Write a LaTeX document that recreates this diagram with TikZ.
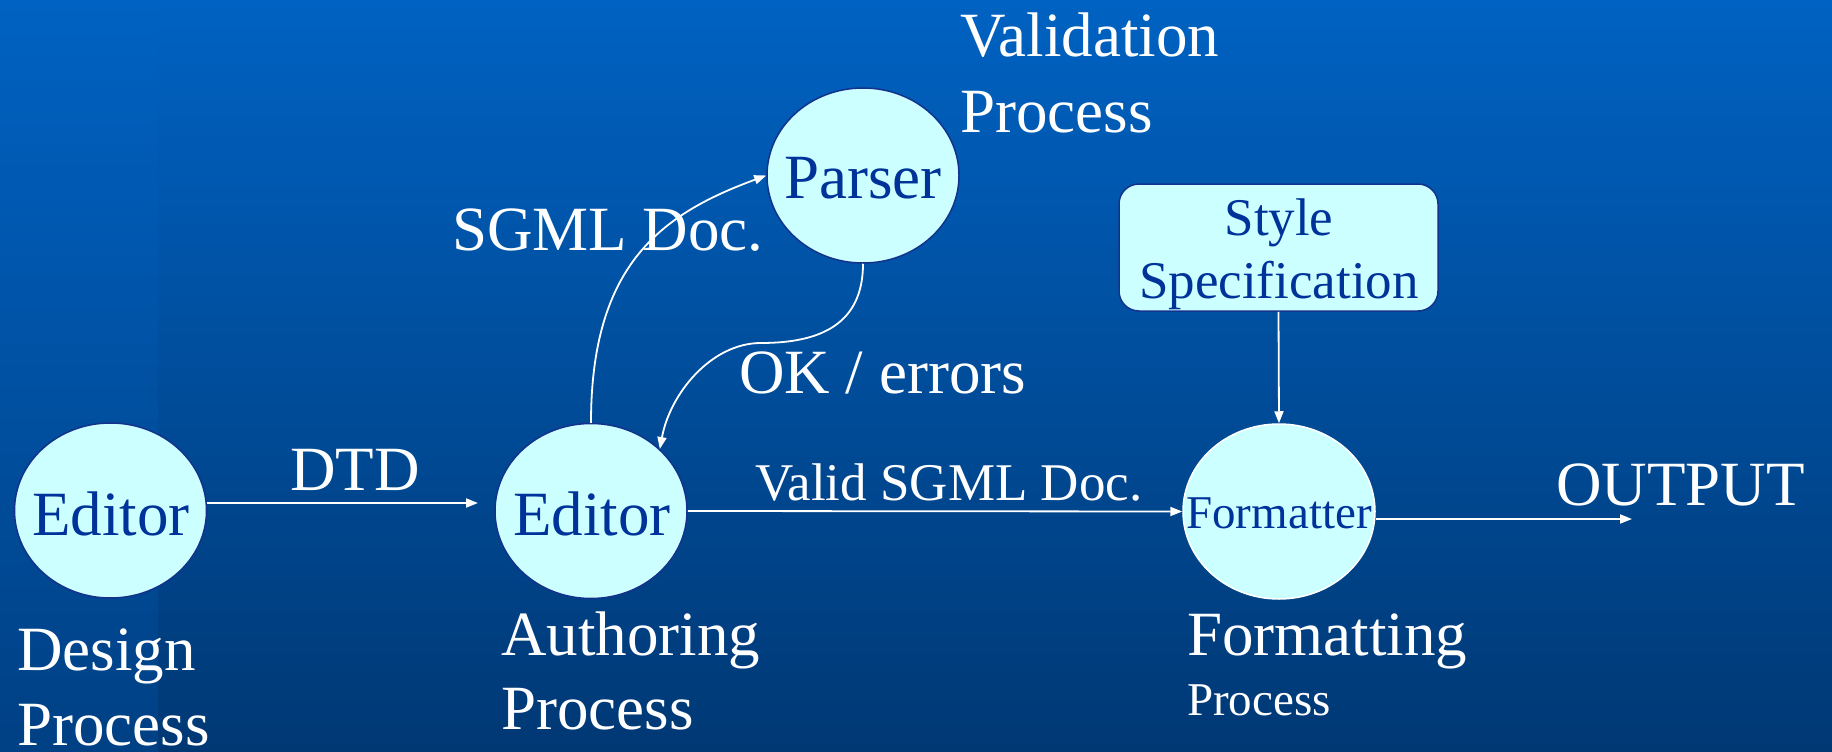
\documentclass[tikz,border=0pt]{standalone}
\usepackage{fontspec}
\setmainfont{Liberation Serif}
\usetikzlibrary{arrows.meta,shapes.geometric}

\definecolor{bgtop}{RGB}{0,98,194}
\definecolor{bgbot}{RGB}{0,56,116}
\definecolor{stripbot}{RGB}{0,64,132}
\definecolor{nodefill}{RGB}{204,255,255}
\definecolor{navy}{RGB}{0,51,153}
\definecolor{rim}{RGB}{20,50,140}

\begin{document}
\begin{tikzpicture}[x=1pt,y=-1pt,
  bubble/.style={ellipse, draw=rim, line width=1.5pt, fill=nodefill,
    minimum width=192pt, minimum height=175pt, inner sep=0pt},
  specbox/.style={rectangle, draw=rim, line width=1.5pt, fill=nodefill,
    rounded corners=20pt, minimum width=319pt, minimum height=127pt, inner sep=0pt},
  intext/.style={text=navy, anchor=base, inner sep=0pt,
    font=\fontsize{63}{63}\selectfont},
  lbl/.style={text=white, anchor=base west, inner sep=0pt,
    font=\fontsize{63}{63}\selectfont},
  midfont/.style={font=\fontsize{53}{53}\selectfont},
  smallfont/.style={font=\fontsize{47}{47}\selectfont},
  flow/.style={draw=white, line width=1.8pt, -{Triangle[length=12pt,width=9pt]}},
]
% background with a slightly lighter strip on the left
\shade[top color=bgtop, bottom color=bgbot] (0,0) rectangle (1832,752);
\shade[top color=bgtop, bottom color=stripbot] (0,0) rectangle (158,752);
\useasboundingbox (0,0) rectangle (1832,752);

% process bubbles
\node[bubble] (editorA) at (110.5,510.5) {};
\node[intext] (editorAtxt) at (111,535) {Editor};
\node[bubble] (editorB) at (591,511) {};
\node[intext] (editorBtxt) at (592,535) {Editor};
\node[bubble] (parser) at (863,175.5) {};
\node[intext] (parsertxt) at (863,198) {Parser};
\node[bubble, draw=white] (formatter) at (1279,511.5) {};
\node[intext, smallfont] (formattertxt) at (1279,528) {Formatter};

% style sheet box
\node[specbox] (style) at (1278.5,247.5) {};
\node[intext, midfont] (styletxtA) at (1279,235) {Style};
\node[intext, midfont] (styletxtB) at (1279,298) {Specification};

% captions
\node[lbl] (dtd) at (290,490) {DTD};
\node[lbl] (designA) at (17,670) {Design};
\node[lbl] (designB) at (17,745) {Process};
\node[lbl] (authA) at (501,655) {Authoring};
\node[lbl] (authB) at (501,729) {Process};
\node[lbl] (validA) at (960,57) {Validation};
\node[lbl] (validB) at (960,132) {Process};
\node[lbl] (sgml) at (452,250) {SGML Doc.};
\node[lbl] (ok) at (739,393) {OK / errors};
\node[lbl, midfont] (validdoc) at (755,500) {Valid SGML Doc.};
\node[lbl] (output) at (1556,505) {OUTPUT};
\node[lbl] (fmtA) at (1187,655) {Formatting};
\node[lbl, smallfont] (fmtB) at (1187,715) {Process};

% connectors
\coordinate (dtdEnd) at (478,503);
\coordinate (outEnd) at (1632,519);
\coordinate (okBend) at (761,343);
\draw[flow] (editorA.east |- dtdEnd) -- (dtdEnd);
\draw[flow] (editorB.east) -- (formatter.west);
\draw[flow] (formatter.east |- outEnd) -- (outEnd);
\draw[flow] (style.south) -- (formatter.north);
\draw[flow] (editorB.north) .. controls +(0,-160) and +(-103,38) .. (parser.west);
\draw[flow] (parser.south) .. controls +(0,60) and +(60,0) .. (okBend)
  .. controls +(-50,0) and +(10,-55) .. (editorB.42);
\end{tikzpicture}
\end{document}
